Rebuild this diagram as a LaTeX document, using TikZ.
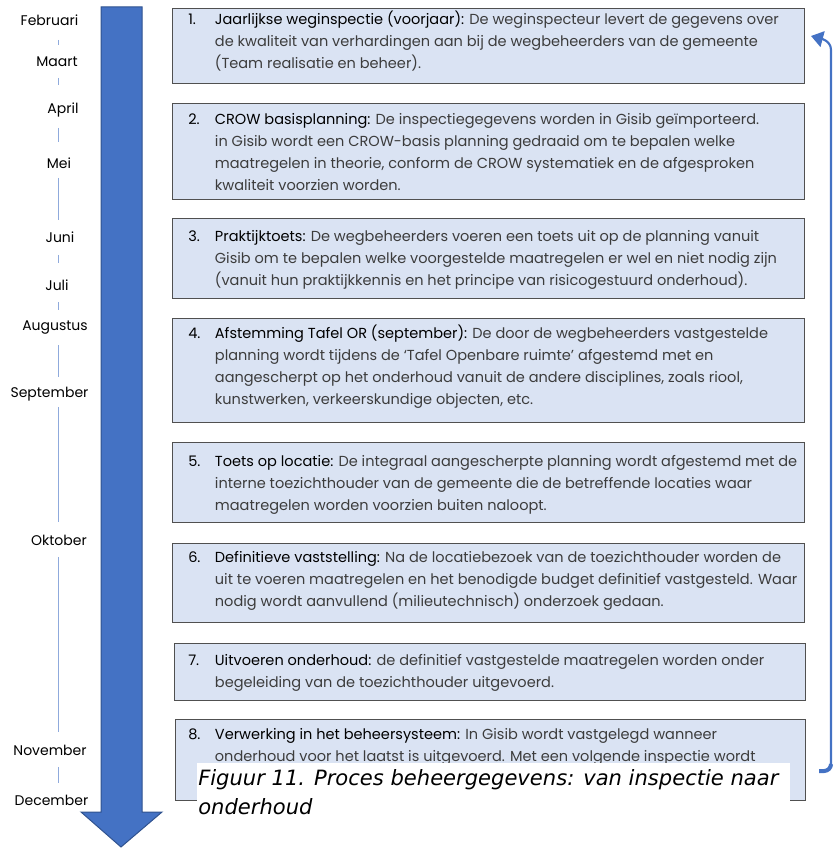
\documentclass[tikz,border=0pt]{standalone}
\usepackage{fontspec}
\setmainfont{Poppins}
\newfontfamily\capfont{DejaVu Sans}
\usepackage{tikz}
\usetikzlibrary{arrows.meta}

\definecolor{pijlblauw}{RGB}{68,114,196}
\definecolor{pijlrand}{RGB}{47,82,143}
\definecolor{vakvulling}{RGB}{218,227,243}
\definecolor{vakrand}{RGB}{80,80,80}
\definecolor{maandblauw}{RGB}{143,170,220}
\definecolor{tekstgrijs}{RGB}{60,60,60}

\tikzset{
  stap/.style={draw=vakrand,fill=vakvulling,line width=0.8pt,inner sep=0pt,anchor=north west},
  staptekst/.style={anchor=base west,inner sep=0pt,text=tekstgrijs,font=\fontsize{10.9}{16.5}\selectfont},
  maand/.style={inner sep=0pt,font=\fontsize{10.5}{12}\selectfont},
  maandlijn/.style={draw=maandblauw,line width=0.75pt}
}
\newcommand{\kop}[1]{\textcolor{black}{#1}}

\begin{document}
\begin{tikzpicture}[x=0.75pt,y=0.75pt,yscale=-1]
\useasboundingbox (0,0) rectangle (834,848);

% tijdlijn
\draw[fill=pijlblauw,draw=pijlrand,line width=0.75pt] (101,7) -- (142,7) -- (142,812) -- (162,812) -- (121,847) -- (81,812) -- (101,812) -- cycle;

\node[maand] (feb) at (49.5,20) {Februari};
\node[maand] (mrt) at (57,62) {Maart};
\node[maand] (apr) at (63,110) {April};
\node[maand] (mei) at (59,163) {Mei};
\node[maand] (jun) at (60,237) {Juni};
\node[maand] (jul) at (57,285) {Juli};
\node[maand] (aug) at (55,328) {Augustus};
\node[maand] (sep) at (49.5,394) {September};
\node[maand] (okt) at (59,540) {Oktober};
\node[maand] (nov) at (50,750) {November};
\node[maand] (dec) at (51.5,800) {December};
\foreach \a/\b in {40/45,78/85,128/142,178/220,255/263,302/310,345/377,407/522,557/732,767/783}
  \draw[maandlijn] (58,\a) -- (58,\b);

% stappen
\node[stap,minimum width=474pt,minimum height=56.25pt] (s1) at (172,8) {};
\node[stap,minimum width=474pt,minimum height=72pt] (s2) at (172,103) {};
\node[stap,minimum width=474pt,minimum height=60pt] (s3) at (172,218) {};
\node[stap,minimum width=474pt,minimum height=78pt] (s4) at (172,318) {};
\node[stap,minimum width=474pt,minimum height=60pt] (s5) at (172,442) {};
\node[stap,minimum width=474pt,minimum height=59.25pt] (s6) at (172,543) {};
\node[stap,minimum width=473.25pt,minimum height=42.75pt] (s7) at (174,643) {};
\node[stap,minimum width=472.5pt,minimum height=60.75pt] (s8) at (175,719) {};

\node[staptekst] (t1) at ([shift={(16,16.5)}]s1.north west) {\begin{tabular}[t]{@{}p{20pt}@{}l@{}}
\kop{1.} & \kop{Jaarlijkse weginspectie (voorjaar):} De weginspecteur levert de gegevens over\\
 & de kwaliteit van verhardingen aan bij de wegbeheerders van de gemeente\\
 & (Team realisatie en beheer).\end{tabular}};
\node[staptekst] (t2) at ([shift={(16,21.5)}]s2.north west) {\begin{tabular}[t]{@{}p{20pt}@{}l@{}}
\kop{2.} & \kop{CROW basisplanning:} De inspectiegegevens worden in Gisib geïmporteerd.\\
 & in Gisib wordt een CROW-basis planning gedraaid om te bepalen welke\\
 & maatregelen in theorie, conform de CROW systematiek en de afgesproken\\
 & kwaliteit voorzien worden.\end{tabular}};
\node[staptekst] (t3) at ([shift={(16,24)}]s3.north west) {\begin{tabular}[t]{@{}p{20pt}@{}l@{}}
\kop{3.} & \kop{Praktijktoets:} De wegbeheerders voeren een toets uit op de planning vanuit\\
 & Gisib om te bepalen welke voorgestelde maatregelen er wel en niet nodig zijn\\
 & (vanuit hun praktijkkennis en het principe van risicogestuurd onderhoud).\end{tabular}};
\node[staptekst] (t4) at ([shift={(16,20.5)}]s4.north west) {\begin{tabular}[t]{@{}p{20pt}@{}l@{}}
\kop{4.} & \kop{Afstemming Tafel OR (september):} De door de wegbeheerders vastgestelde\\
 & planning wordt tijdens de ‘Tafel Openbare ruimte’ afgestemd met en\\
 & aangescherpt op het onderhoud vanuit de andere disciplines, zoals riool,\\
 & kunstwerken, verkeerskundige objecten, etc.\end{tabular}};
\node[staptekst] (t5) at ([shift={(16,24)}]s5.north west) {\begin{tabular}[t]{@{}p{20pt}@{}l@{}}
\kop{5.} & \kop{Toets op locatie:} De integraal aangescherpte planning wordt afgestemd met de\\
 & interne toezichthouder van de gemeente die de betreffende locaties waar\\
 & maatregelen worden voorzien buiten naloopt.\end{tabular}};
\node[staptekst] (t6) at ([shift={(16,19)}]s6.north west) {\begin{tabular}[t]{@{}p{20pt}@{}l@{}}
\kop{6.} & \kop{Definitieve vaststelling:} Na de locatiebezoek van de toezichthouder worden de\\
 & uit te voeren maatregelen en het benodigde budget definitief vastgesteld. Waar\\
 & nodig wordt aanvullend (milieutechnisch) onderzoek gedaan.\end{tabular}};
\node[staptekst] (t7) at ([shift={(14,22)}]s7.north west) {\begin{tabular}[t]{@{}p{20pt}@{}l@{}}
\kop{7.} & \kop{Uitvoeren onderhoud:} de definitief vastgestelde maatregelen worden onder\\
 & begeleiding van de toezichthouder uitgevoerd.\end{tabular}};
\node[staptekst] (t8) at ([shift={(13,20)}]s8.north west) {\begin{tabular}[t]{@{}p{20pt}@{}l@{}}
\kop{8.} & \kop{Verwerking in het beheersysteem:} In Gisib wordt vastgelegd wanneer\\
 & onderhoud voor het laatst is uitgevoerd. Met een volgende inspectie wordt\end{tabular}};

% terugkoppeling naar stap 1
\draw[pijlblauw,line width=1.6pt,-{Triangle[length=9pt,width=12pt]}] (831,766) -- (831,50) to[out=-90,in=15] (811,36);
\draw[pijlblauw,line width=3pt] (819,771) -- (824,771) to[out=0,in=90] (831,764);

% onderschrift
\fill[white] (197,763) rectangle (790,801);
\node[anchor=base west,inner sep=0pt,font=\capfont\itshape\fontsize{15.8}{20}\selectfont] (cap1) at (198,785) {Figuur 11. Proces beheergegevens: van inspectie naar};
\node[anchor=base west,inner sep=0pt,font=\capfont\itshape\fontsize{15.8}{20}\selectfont] (cap2) at (198,814) {onderhoud};
\end{tikzpicture}
\end{document}
